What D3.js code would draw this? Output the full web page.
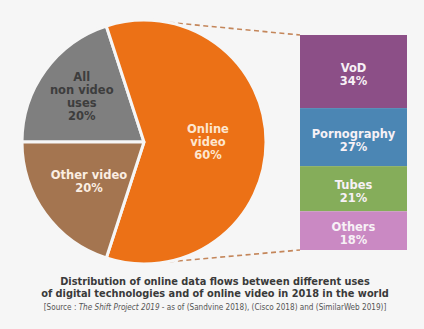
<!DOCTYPE html>
<html>
<head>
<meta charset="utf-8">
<script src="https://cdn.jsdelivr.net/npm/d3@7"></script>
<style>
  html, body { margin: 0; padding: 0; background: #f6f6f6; }
  svg { display: block; }
</style>
</head>
<body>
<svg id="chart" width="424" height="329"></svg>
<script>
// Global split of online data flows (2018)
const useNames   = ["All non video uses", "Online video", "Other video"];
const useShares  = [20, 60, 20];
const useLabels  = [["All", "non video", "uses", "20%"], ["Online", "video", "60%"], ["Other video", "20%"]];

// Breakdown of the online video share
const videoNames  = ["VoD", "Pornography", "Tubes", "Others"];
const videoShares = [34, 27, 21, 18];

const titleLines = [
  "Distribution of online data flows between different uses",
  "of digital technologies and of online video in 2018 in the world"
];

const pieColors   = ["#7f7f7f", "#ec7116", "#a47550"];
const pieText     = ["#3d3d3d", "#fde6cf", "#fbeee2"];
const labelRadius = [77, 64, 68];
const barColors   = ["#8c4f87", "#4b86b4", "#85ad5a", "#ca89c3"];

const svg = d3.select("#chart");
const cx = 144, cy = 142, R = 122;
const font = "'DejaVu Sans', Verdana, sans-serif";

// stacked bar scale
const barX0 = 300, barX1 = 407;
const y = d3.scaleLinear().domain([0, d3.sum(videoShares)]).range([35, 250]);

// dashed connectors from the pie's top/bottom to the bar corners
const conn = svg.append("g")
  .attr("stroke", "#c4865a").attr("stroke-width", 1.6)
  .attr("stroke-dasharray", "5,3.5").attr("fill", "none");
conn.append("line").attr("x1", cx).attr("y1", cy - R).attr("x2", barX0).attr("y2", y(0));
conn.append("line").attr("x1", cx).attr("y1", cy + R).attr("x2", barX0).attr("y2", y(d3.sum(videoShares)));

// pie
const pie = d3.pie().sort(null).startAngle(-Math.PI / 2).endAngle(1.5 * Math.PI);
const arcs = pie(useShares);
const arc = d3.arc().innerRadius(0).outerRadius(R);

const pg = svg.append("g").attr("transform", `translate(${cx},${cy})`);
pg.selectAll("path").data(arcs).join("path")
  .attr("d", arc)
  .attr("fill", (d, i) => pieColors[i])
  .attr("stroke", "#f6f6f6").attr("stroke-width", 3).attr("stroke-linejoin", "round");

const lh = 13;
arcs.forEach((d, i) => {
  const a = (d.startAngle + d.endAngle) / 2;
  const px = labelRadius[i] * Math.sin(a), py = -labelRadius[i] * Math.cos(a);
  const lines = useLabels[i];
  const t = pg.append("text")
    .attr("font-family", font).attr("font-weight", "bold").attr("font-size", 11.5)
    .attr("fill", pieText[i]).attr("text-anchor", "middle");
  lines.forEach((s, j) => {
    t.append("tspan").attr("x", px)
      .attr("y", py + (j - (lines.length - 1) / 2) * lh + 4)
      .text(s);
  });
});

// stacked bar
let acc = 0;
const segs = videoShares.map((v, i) => { const s = { name: videoNames[i], v, y0: acc, y1: acc + v, i }; acc += v; return s; });
const bg = svg.append("g");
bg.selectAll("rect").data(segs).join("rect")
  .attr("x", barX0).attr("width", barX1 - barX0)
  .attr("y", d => y(d.y0)).attr("height", d => y(d.y1) - y(d.y0))
  .attr("fill", d => barColors[d.i]);
segs.forEach(d => {
  const mid = (y(d.y0) + y(d.y1)) / 2 + 3;
  const t = bg.append("text")
    .attr("font-family", font).attr("font-weight", "bold").attr("font-size", 11.5)
    .attr("fill", "#f7f1f6").attr("text-anchor", "middle");
  t.append("tspan").attr("x", (barX0 + barX1) / 2).attr("y", mid - 6.5 + 4).text(d.name);
  t.append("tspan").attr("x", (barX0 + barX1) / 2).attr("y", mid + 6.5 + 4).text(d.v + "%");
});

// caption
const cap = svg.append("g").attr("text-anchor", "middle");
titleLines.forEach((s, j) => {
  cap.append("text").attr("x", 215).attr("y", 285 + j * 12)
    .attr("font-family", "'DejaVu Sans Condensed', 'DejaVu Sans', sans-serif")
    .attr("font-weight", "bold").attr("font-size", 10.9).attr("fill", "#3a3a3a")
    .text(s);
});
const src = cap.append("text").attr("x", 215).attr("y", 310)
  .attr("font-family", "'DejaVu Sans Condensed', 'DejaVu Sans', sans-serif")
  .attr("font-size", 8.1).attr("fill", "#555");
src.append("tspan").text("[Source : ");
src.append("tspan").attr("font-style", "italic").text("The Shift Project 2019");
src.append("tspan").text(" - as of (Sandvine 2018), (Cisco 2018) and (SimilarWeb 2019)]");
</script>
</body>
</html>
